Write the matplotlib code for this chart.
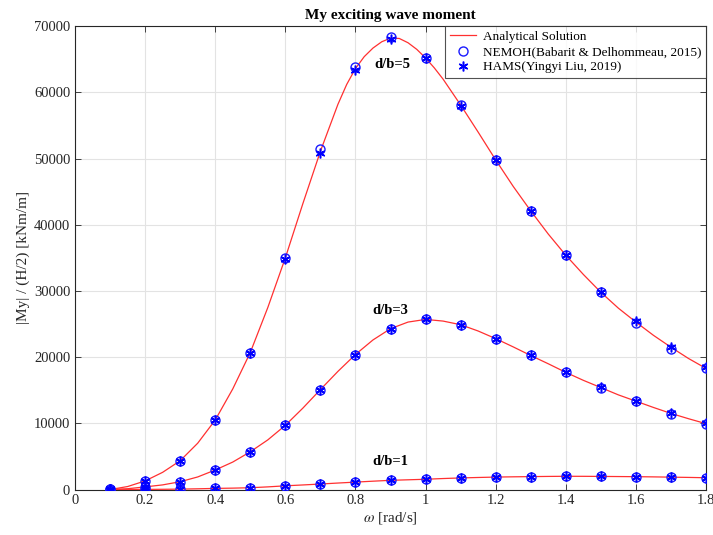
import numpy as np
import matplotlib.pyplot as plt
from matplotlib.ticker import FormatStrFormatter

plt.rcParams['font.family'] = ['Liberation Serif', 'DejaVu Serif']
plt.rcParams['mathtext.fontset'] = 'stix'

# frequencies of the panel-code runs
w = [0.1, 0.2, 0.3, 0.4, 0.5, 0.6, 0.7, 0.8, 0.9,
     1.0, 1.1, 1.2, 1.3, 1.4, 1.5, 1.6, 1.7, 1.8]

# NEMOH results (kNm/m)
nemoh_5 = [100, 1300, 4350, 10500, 20700, 35000, 51400, 63800, 68300,
           65200, 58100, 49800, 42100, 35400, 29800, 25200, 21300, 18300]
nemoh_3 = [20, 420, 1180, 2950, 5700, 9700, 15100, 20400, 24300,
           25700, 24900, 22800, 20250, 17700, 15350, 13300, 11450, 9950]
nemoh_1 = [0, 20, 60, 180, 270, 570, 830, 1130, 1390,
           1550, 1750, 1880, 1950, 2000, 1980, 1940, 1870, 1780]

# HAMS results (kNm/m)
hams_5 = [80, 1250, 4300, 10450, 20600, 34800, 50900, 63400, 68000,
          65200, 58000, 49800, 42100, 35400, 29900, 25500, 21600, 18500]
hams_3 = [20, 400, 1170, 2950, 5700, 9750, 15050, 20350, 24300,
          25700, 24900, 22800, 20300, 17750, 15500, 13450, 11600, 10100]
hams_1 = [0, 20, 60, 170, 270, 560, 830, 1120, 1400,
          1560, 1760, 1890, 1960, 2010, 1990, 1950, 1880, 1800]

# analytical solution, d/b=5 (finer around the peak)
w_an5 = [0.1, 0.15, 0.2, 0.25, 0.3, 0.35, 0.4, 0.45, 0.5, 0.55, 0.6, 0.65,
         0.7, 0.75, 0.775, 0.8, 0.825, 0.85, 0.875, 0.9, 0.925, 0.95, 0.975,
         1.0, 1.025, 1.05, 1.1, 1.15, 1.2, 1.25, 1.3, 1.35, 1.4, 1.45, 1.5,
         1.55, 1.6, 1.65, 1.7, 1.75, 1.8]
an_5 = [0, 450, 1300, 2600, 4350, 7000, 10500, 15200, 20700, 27500, 35000,
        43200, 51100, 58200, 61200, 63600, 65400, 66700, 67650, 68200,
        68150, 67500, 66500, 65200, 63700, 62000, 58100, 54000, 49800,
        45800, 42100, 38600, 35400, 32500, 29800, 27400, 25300, 23300,
        21500, 19800, 18300]

# analytical solution, d/b=3 and d/b=1
w_an = [0.1, 0.15, 0.2, 0.25, 0.3, 0.35, 0.4, 0.45, 0.5, 0.55, 0.6, 0.65,
        0.7, 0.75, 0.8, 0.85, 0.9, 0.95, 1.0, 1.05, 1.1, 1.15, 1.2, 1.25,
        1.3, 1.35, 1.4, 1.45, 1.5, 1.55, 1.6, 1.65, 1.7, 1.75, 1.8]
an_3 = [0, 120, 400, 700, 1180, 1900, 2950, 4150, 5700, 7500, 9700, 12300,
        15100, 17850, 20400, 22600, 24300, 25300, 25700, 25450, 24900,
        23950, 22800, 21550, 20250, 19000, 17700, 16500, 15400, 14300,
        13350, 12400, 11500, 10700, 9950]
an_1 = [0, 5, 20, 35, 60, 110, 170, 210, 270, 400, 560, 690, 830, 980,
        1120, 1260, 1390, 1470, 1550, 1660, 1750, 1820, 1880, 1920, 1950,
        1980, 2000, 1995, 1980, 1960, 1940, 1910, 1870, 1830, 1780]

labels = ['d/b=5', 'd/b=3', 'd/b=1']
label_pos = [(0.905, 64200), (0.9, 27100), (0.9, 4200)]

fig = plt.figure(figsize=(7.13, 5.35), dpi=100)
ax = fig.add_axes([0.1052, 0.085, 0.885, 0.866])

star = (6, 2, 0)
curves = [(w_an5, an_5, nemoh_5, hams_5),
          (w_an, an_3, nemoh_3, hams_3),
          (w_an, an_1, nemoh_1, hams_1)]
for i, (wa, an, ne, ha) in enumerate(curves):
    ax.plot(wa, an, color='#ff3030', lw=0.9,
            label='Analytical Solution' if i == 0 else None, zorder=3)
    ax.plot(w, ne, 'o', mfc='none', mec='#1a1aff', mew=1.0, ms=6.5,
            label='NEMOH(Babarit & Delhommeau, 2015)' if i == 0 else None, zorder=4)
    ax.plot(w, ha, ls='none', marker=star, mec='#0000ff', mfc='#0000ff', mew=1.1, ms=7,
            label='HAMS(Yingyi Liu, 2019)' if i == 0 else None, zorder=5)

for txt, (x, y) in zip(labels, label_pos):
    ax.text(x, y, txt, ha='center', va='center', fontsize=10.5, fontweight='bold')

ax.set_xlim(0, 1.8)
ax.set_ylim(0, 70000)
ax.set_xticks(np.arange(0, 1.81, 0.2))
ax.set_yticks(np.arange(0, 70001, 10000))
ax.xaxis.set_major_formatter(FormatStrFormatter('%g'))
ax.grid(True, color='#e3e3e3', lw=0.8)
ax.set_axisbelow(True)
ax.tick_params(direction='in', top=True, right=True, labelsize=10.5,
               labelcolor='#262626', color='#262626', length=4, width=0.6)
for s in ax.spines.values():
    s.set_color('#262626')
    s.set_linewidth(0.8)

ax.set_xlabel(r'$\omega$ [rad/s]', fontsize=11, color='#262626', labelpad=2)
ax.set_ylabel('|My| / (H/2) [kNm/m]', fontsize=11, color='#262626', labelpad=3)
ax.set_title('My exciting wave moment', fontsize=11, fontweight='bold', pad=5)

leg = ax.legend(loc='upper right', fontsize=9.5, frameon=True, fancybox=False,
                borderpad=0.35, labelspacing=0.22, handlelength=2.0,
                handletextpad=0.5, borderaxespad=0.0)
leg.get_frame().set_edgecolor('#262626')
leg.get_frame().set_linewidth(0.8)

fig.savefig('out.png', dpi=100)
